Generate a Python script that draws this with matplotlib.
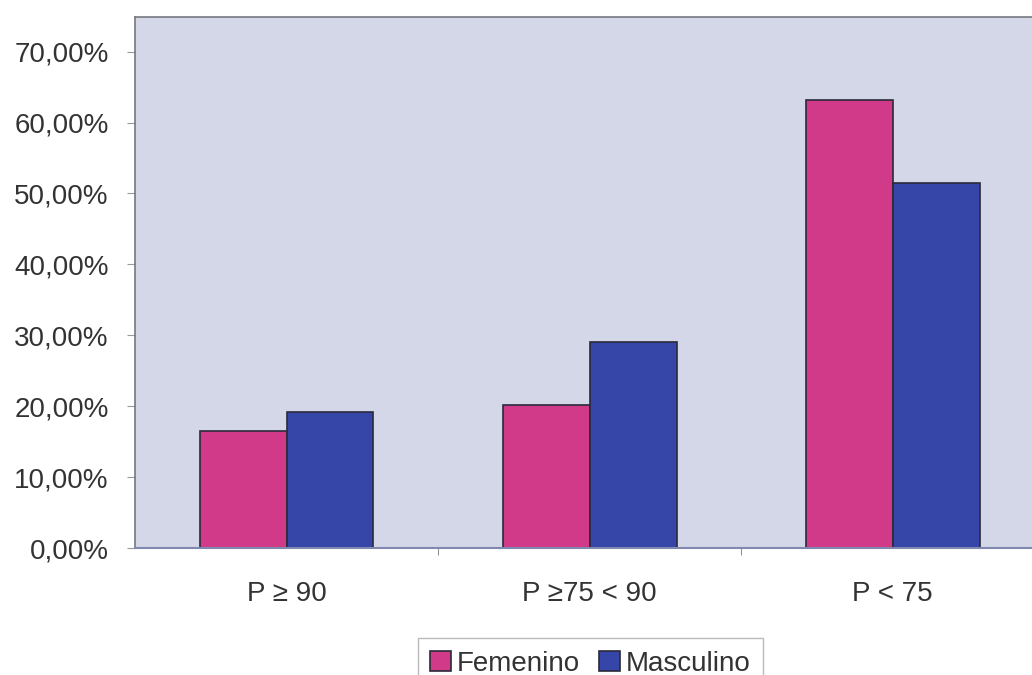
import matplotlib
matplotlib.use("Agg")
import matplotlib.pyplot as plt
import numpy as np
from matplotlib.ticker import FuncFormatter

categories = ["P ≥ 90", "P ≥75 < 90", "P < 75"]
femenino = [0.165, 0.202, 0.632]
masculino = [0.192, 0.291, 0.515]
series_names = ["Femenino", "Masculino"]
yticks = [0.0, 0.1, 0.2, 0.3, 0.4, 0.5, 0.6, 0.7]

plt.rcParams['font.family'] = ['Liberation Sans', 'DejaVu Sans']

fig = plt.figure(figsize=(10.32, 6.75), dpi=100)
ax = fig.add_axes([0.1308, 0.188, 0.881, 0.787])
ax.set_facecolor('#d4d7e8')

x = np.arange(len(categories))
w = 0.287
b1 = ax.bar(x - w/2, femenino, w, color='#d03a88', edgecolor='#2a2a3a', linewidth=1.2, label=series_names[0])
b2 = ax.bar(x + w/2, masculino, w, color='#3546a8', edgecolor='#2a2a3a', linewidth=1.2, label=series_names[1])

ax.set_xlim(-0.5, 2.5)
ax.set_ylim(0, 0.749)
ax.set_yticks(yticks)
ax.yaxis.set_major_formatter(FuncFormatter(lambda v, p: f"{v*100:.2f}%".replace('.', ',')))
ax.set_xticks(x)
ax.set_xticklabels(categories)
ax.set_xticks([0.5, 1.5], minor=True)
ax.tick_params(axis='x', which='major', length=0, pad=24, labelsize=20, labelcolor='#333333')
ax.tick_params(axis='x', which='minor', length=5, color='#777777')
ax.tick_params(axis='y', length=6, color='#999999', labelsize=20, labelcolor='#333333', pad=13)

for s in ['top', 'left']:
    ax.spines[s].set_color('#777780')
    ax.spines[s].set_linewidth(1.2)
ax.spines['bottom'].set_color('#8088b0')
ax.spines['bottom'].set_linewidth(1.5)
ax.spines['right'].set_visible(False)

leg = fig.legend(handles=[b1, b2], labels=series_names, loc='upper center',
                 bbox_to_anchor=(0.572, 0.0548), borderaxespad=0, ncol=2, frameon=True, fontsize=20,
                 handlelength=0.75, handleheight=0.75, handletextpad=0.2, columnspacing=0.7,
                 fancybox=False, borderpad=0.45)
leg.get_frame().set_edgecolor('#aaaaaa')
for t in leg.get_texts():
    t.set_color('#333333')

fig.savefig("out.png", dpi=100)
